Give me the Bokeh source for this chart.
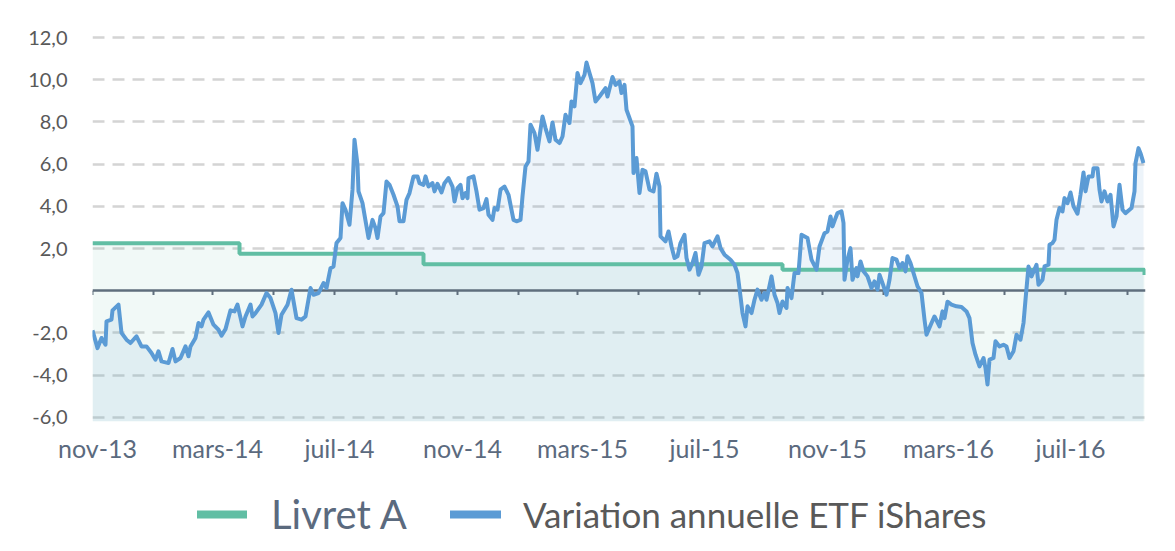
import pandas as pd
from bokeh.plotting import figure
from bokeh.layouts import column
from bokeh.models import Range1d, FixedTicker, Legend, LegendItem
from bokeh.embed import file_html
from bokeh.resources import INLINE

# days counted from 1 Nov 2013
start = pd.Timestamp("2013-11-01")

etf_days = [
    0, 5, 9, 13, 14, 19, 20, 26, 29, 34, 38, 44, 49, 54, 59, 63, 66, 69, 76, 80,
    83, 88, 93, 96, 98, 103, 106, 109, 111, 116, 121, 126, 129, 133, 138, 142, 145, 150, 153, 158,
    160, 163, 169, 174, 178, 183, 186, 189, 195, 199, 204, 209,
    213, 218, 221, 226, 231, 234, 238, 241, 244, 248, 250, 253, 257, 260, 262, 265, 266, 270, 272, 276,
    280, 283, 285, 288, 291, 294, 297, 301, 305, 307, 311, 314, 317, 321, 325, 327, 331, 333, 336, 340,
    342, 345, 349, 352, 356, 360, 362, 365, 368, 370, 373, 375, 376, 381, 384, 387, 391, 394, 396, 400,
    402, 405, 408, 412, 416, 421, 424,
    428, 430, 433, 436, 438, 442, 445, 450, 453, 457, 460, 463, 467, 470, 473, 477, 479, 482, 485, 488,
    492, 494, 497, 500, 503, 507, 513, 515, 520, 523, 527, 529, 532, 534, 540, 541, 544, 547, 550, 553,
    557, 561, 564, 567, 568, 573, 576, 579, 582, 585, 588, 592, 594, 597, 600, 603, 606, 609, 612, 617,
    620, 625, 628, 632,
    638, 642, 645, 648, 650, 653, 655, 659, 662, 665, 669, 672, 674, 679, 682, 685, 687, 690, 694, 695,
    699, 702, 706, 709, 715, 719, 724, 727, 732, 735, 738, 740, 743, 745, 749, 751, 752, 755, 758, 760,
    764, 765, 768, 771, 775, 779, 782, 785, 787, 790, 794, 797, 800, 804, 807, 810, 813, 815, 818, 821,
    825, 829, 832, 834, 839, 842,
    847, 850, 852, 855, 859, 864, 869, 874, 877, 880, 883, 887, 891, 893, 895, 897, 901, 903, 907, 911,
    914, 917, 921, 924, 928, 931, 933, 936, 939, 944, 946, 950, 952, 956, 957, 960, 962, 964, 967, 970,
    972, 975, 978, 981, 985, 988, 991, 993, 996, 1000, 1001, 1005, 1007, 1009, 1012, 1015, 1018, 1021, 1024, 1027,
    1030, 1033, 1037, 1039, 1042, 1043, 1046, 1048, 1051,
]
etf_values = [
    -1.88, -2.72, -2.24, -2.56, -1.45, -1.37, -0.93, -0.66, -2.0, -2.32, -2.48, -2.16, -2.64, -2.64, -2.95, -3.27, -2.87, -3.35, -3.43, -2.76,
    -3.35, -3.19, -2.64, -3.11, -2.64, -2.24, -1.53, -1.69, -1.37, -1.03, -1.61, -1.85, -2.13, -1.82, -0.93, -0.98, -0.66, -1.69, -1.22, -0.66,
    -1.22, -1.06, -0.66, -0.11, -0.35, -1.06, -2.0, -1.14, -0.66, 0.05, -1.3, -1.37,
    -1.22, 0.13, -0.19, -0.11, 0.36, 0.13, 1.07, 1.15, 2.26, 2.5, 4.15, 3.84, 3.13, 4.79, 7.16, 5.97, 4.71, 4.15, 3.6, 2.5,
    3.36, 2.97, 2.5, 3.52, 3.68, 5.18, 5.02, 4.55, 4.0, 3.29, 3.29, 4.31, 4.63, 5.42, 5.42, 5.1, 5.02, 5.42, 4.94, 5.1,
    4.71, 5.07, 4.66, 5.1, 5.34, 4.94, 4.23, 4.87, 5.02, 4.39, 4.63, 4.39, 5.34, 5.42, 4.71, 3.84, 3.92, 4.34, 3.6, 3.36,
    3.92, 3.84, 4.79, 4.94, 4.55, 3.36, 3.29,
    3.36, 4.47, 5.89, 6.13, 7.87, 7.47, 6.68, 8.26, 7.71, 7.08, 7.98, 7.16, 7.0, 7.31, 8.34, 7.95, 8.97, 8.74, 10.32, 9.84,
    10.24, 10.82, 10.32, 9.84, 8.97, 9.21, 9.6, 9.21, 10.13, 9.76, 9.92, 9.37, 9.76, 8.58, 7.79, 5.58, 6.29, 4.63, 5.73, 5.66,
    4.79, 4.71, 5.55, 4.94, 2.58, 2.34, 2.81, 2.1, 1.55, 1.63, 2.26, 2.65, 1.55, 1.0, 1.31, 1.79, 0.76, 1.15, 2.26, 2.34,
    2.1, 2.58, 2.02, 1.71,
    1.47, 1.23, 0.84, -0.27, -1.06, -1.69, -0.74, -1.06, -0.43, 0.05, -0.43, -0.11, -0.43, 0.68, -0.19, -0.58, -1.06, -0.51, -0.82, 0.13,
    -0.35, 0.84, 0.84, 2.65, 2.5, 1.47, 1.0, 2.1, 2.73, 2.81, 3.52, 3.05, 3.44, 3.68, 3.76, 3.21, 0.52, 1.47, 2.02, 0.52,
    1.07, 0.68, 1.39, 0.92, 0.68, 0.13, 0.44, 0.05, 0.76, 0.36, -0.19, 0.52, 1.55, 1.47, 1.07, 1.31, 0.92, 1.63, 1.31, 0.84,
    0.21, -0.11, -1.37, -2.09, -1.53, -1.22,
    -1.69, -0.98, -1.3, -0.52, -0.66, -0.74, -0.77, -0.98, -1.3, -2.48, -3.03, -3.59, -3.19, -3.67, -4.45, -3.27, -3.19, -2.4, -2.64, -2.56,
    -2.64, -3.19, -2.87, -2.09, -2.32, -1.53, -0.43, 1.15, 0.68, 1.23, 0.28, 0.52, 1.15, 1.23, 2.18, 2.26, 2.42, 3.36, 3.92, 3.76,
    4.39, 4.15, 4.66, 4.0, 3.65, 4.55, 5.61, 4.71, 5.42, 5.42, 5.81, 5.81, 4.79, 4.23, 4.71, 4.23, 4.55, 3.05, 3.52, 5.02,
    3.84, 3.68, 3.84, 3.92, 4.71, 6.05, 6.76, 6.52, 6.05,
]
assert len(etf_days) == len(etf_values)

livret_days = [0, 147, 331, 690, 1052]
livret_values = [2.25, 1.75, 1.25, 1.0, 0.75]

x_labels = ["nov-13", "mars-14", "juil-14", "nov-14", "mars-15", "juil-15", "nov-15", "mars-16", "juil-16"]
x_label_dates = ["2013-11-01", "2014-03-01", "2014-07-01", "2014-11-01", "2015-03-01",
                 "2015-07-01", "2015-11-01", "2016-03-01", "2016-07-01"]
y_ticks = [-6, -4, -2, 2, 4, 6, 8, 10, 12]

GREEN = "#61bea4"
BLUE = "#5b9bd5"
SLATE = "#5b6a7e"
GREY = "#595959"
FONT = "Lato"
BOTTOM = -6.2
W = 1167

label_pos = [(pd.Timestamp(d) - start).days + 5 for d in x_label_dates]
tick_days = [(d - start).days for d in pd.date_range(start, periods=18, freq="2MS")]

p = figure(width=W, height=480, output_backend="svg", toolbar_location=None,
           x_range=Range1d(0, 1053), y_range=Range1d(BOTTOM, 12.1),
           min_border_left=92, min_border_right=W - 1145, min_border_top=35, min_border_bottom=59)
p.outline_line_color = None
p.background_fill_color = "white"
p.border_fill_color = "white"

# areas
p.varea_step(x=livret_days, y1=BOTTOM, y2=livret_values, step_mode="after",
             fill_color=GREEN, fill_alpha=0.09)
p.varea(x=etf_days, y1=BOTTOM, y2=etf_values, fill_color=BLUE, fill_alpha=0.11)

# zero axis line with tick marks
p.hspan(y=[0], line_color="#5f6e7d", line_width=2.5)
p.segment(x0=tick_days, y0=0, x1=tick_days, y1=-0.2, line_color="#5f6e7d", line_width=2)

p.step(livret_days, livret_values, mode="after", line_width=4, color=GREEN)
p.line(etf_days, etf_values, line_width=4, color=BLUE, line_join="round")

# axes
p.xgrid.visible = False
p.ygrid.ticker = FixedTicker(ticks=y_ticks)
p.ygrid.grid_line_color = "#d4d4d4"
p.ygrid.grid_line_width = 2.5
p.ygrid.grid_line_dash = "12 8"

p.yaxis.ticker = FixedTicker(ticks=y_ticks)
p.yaxis.major_label_overrides = {t: f"{t:.1f}".replace(".", ",") for t in y_ticks}
p.yaxis.axis_line_color = None
p.yaxis.major_tick_line_color = None
p.yaxis.minor_tick_line_color = None
p.yaxis.major_label_standoff = 19
p.yaxis.major_label_text_font = FONT
p.yaxis.major_label_text_font_size = "20px"
p.yaxis.major_label_text_color = GREY

p.xaxis.ticker = FixedTicker(ticks=label_pos)
p.xaxis.major_label_overrides = dict(zip(label_pos, x_labels))
p.xaxis.axis_line_color = None
p.xaxis.major_tick_line_color = None
p.xaxis.minor_tick_line_color = None
p.xaxis.major_label_standoff = 5
p.xaxis.major_label_text_font = FONT
p.xaxis.major_label_text_font_size = "25px"
p.xaxis.major_label_text_color = SLATE

# legend strip below the chart (two legends: the labels are styled differently)
# its frame lines up with the chart frame (x 92..1145)
lg = figure(width=W, height=63, output_backend="svg", toolbar_location=None,
            x_range=Range1d(0, 1), y_range=Range1d(0, 1),
            min_border=0, x_axis_type=None, y_axis_type=None)
lg.outline_line_color = None
lg.grid.visible = False
# legend-only renderers, kept outside the visible range
sw_livret = lg.line([-2, -1], [-2, -1], line_width=8, line_cap="round", color=GREEN)
sw_etf = lg.line([-2, -1], [-2, -1], line_width=8, line_cap="round", color=BLUE)

leg1 = Legend(items=[LegendItem(label="Livret A", renderers=[sw_livret])],
              location=(105, 5), glyph_width=50, glyph_height=48, label_height=48,
              label_standoff=24, label_text_font=FONT, label_text_font_size="40px",
              label_text_color=SLATE)
leg2 = Legend(items=[LegendItem(label="Variation annuelle ETF iShares", renderers=[sw_etf])],
              location=(358, 8), glyph_width=51, glyph_height=42, label_height=42,
              label_standoff=22, label_text_font=FONT, label_text_font_size="35px",
              label_text_color=GREY)
for leg in (leg1, leg2):
    leg.padding = 0
    leg.margin = 0
    leg.spacing = 0
    leg.border_line_color = None
    leg.background_fill_alpha = 0
    lg.add_layout(leg)

open("out.html", "w").write(file_html(column(p, lg, spacing=0), INLINE))
